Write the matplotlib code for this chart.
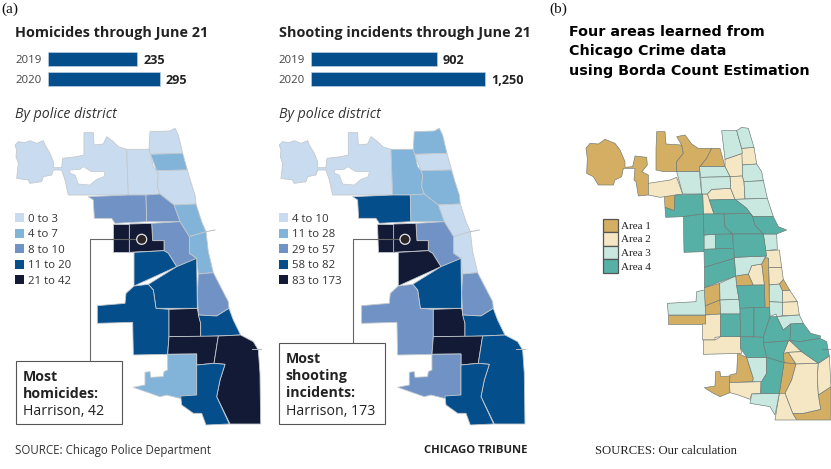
import matplotlib
matplotlib.use('Agg')
import matplotlib.pyplot as plt
from matplotlib.patches import Polygon, Rectangle, Circle

plt.rcParams['font.family'] = ['Open Sans', 'DejaVu Sans']

W, H = 831, 469

# bar data
years = ['2019', '2020']
homicides = [235, 295]
shootings = [902, 1250]

# police district outlines
districts = {
    'd16': [(45,75),(55,65),(75,68),(90,62),(110,70),(130,62),(135,75),(150,100),(160,125),(160,143),(185,143),(188,115),(230,110),(252,105),(252,38),(280,38),(282,75),(310,72),(320,50),(340,65),(355,80),(380,88),(385,225),(205,225),(195,180),(185,150),(160,150),(155,165),(130,170),(125,185),(90,190),(85,180),(50,175),(55,130),(48,110),(50,90)],
    'd17': [(380,88),(447,88),(452,103),(460,140),(470,152),(475,165),(472,200),(480,222),(438,225),(385,225)],
    'd24': [(450,35),(510,33),(525,25),(535,45),(548,100),(452,103),(447,88)],
    'd20': [(452,103),(548,100),(562,150),(470,152)],
    'd19': [(470,152),(562,150),(572,185),(585,225),(588,252),(522,255),(480,222),(472,200),(475,165)],
    'd18': [(522,255),(588,252),(605,305),(618,335),(568,350),(540,305)],
    'd1': [(568,350),(618,335),(625,395),(640,458),(595,462),(590,415),(568,400)],
    'd25': [(265,230),(385,225),(438,225),(440,305),(345,310),(335,295),(283,295),(280,240)],
    'd14': [(438,225),(480,222),(522,255),(540,305),(440,305)],
    'd12': [(455,310),(540,305),(568,350),(568,400),(590,415),(582,420),(530,440),(505,400),(492,392),(492,362),(458,362)],
    'd15': [(338,312),(388,312),(388,397),(340,397)],
    'd11': [(388,312),(455,310),(458,362),(492,362),(492,392),(388,397)],
    'd10': [(402,397),(492,392),(505,400),(530,440),(402,498)],
    'd9': [(445,493),(530,440),(590,415),(592,565),(468,565),(460,510)],
    'd8': [(292,557),(375,550),(378,520),(402,498),(445,493),(460,510),(468,565),(507,568),(507,650),(503,703),(400,705),(398,607),(292,610)],
    'd7': [(507,568),(592,565),(602,610),(602,650),(507,650)],
    'd2': [(595,462),(640,458),(685,545),(687,565),(650,588),(595,585),(592,520)],
    'd3': [(595,585),(650,588),(687,565),(700,600),(722,645),(655,648),(602,650),(602,610)],
    'd6': [(507,650),(655,648),(642,730),(590,735),(590,702),(503,703)],
    'd4': [(655,648),(722,645),(760,665),(775,690),(780,760),(782,912),(690,912),(650,830),(660,780),(675,733),(642,730)],
    'd22': [(503,703),(590,702),(590,840),(540,835),(500,825),(480,830),(400,802),(435,795),(435,757),(450,755),(452,772),(490,770),(492,755),(503,750)],
    'd5': [(590,735),(642,730),(675,733),(660,780),(650,830),(688,912),(618,915),(605,880),(580,880),(545,855),(542,828),(590,825)],
}
ohare_hole = [(210,150),(240,148),(250,140),(275,155),(315,155),(312,170),(290,178),(270,195),(235,192),(225,165),(210,160)]
piers = [[(618,335),(645,330)], [(755,688),(782,688)]]

# colour bin of each district, 0 (lowest) to 4
homicide_bins = {'d16':0,'d17':0,'d24':0,'d20':1,'d19':0,'d18':1,'d1':1,'d25':2,'d14':2,'d12':2,'d15':4,'d11':4,
                 'd10':3,'d9':3,'d8':3,'d7':4,'d2':2,'d3':3,'d6':4,'d4':4,'d22':1,'d5':3}
shooting_bins = {'d16':0,'d17':1,'d24':1,'d20':0,'d19':1,'d18':0,'d1':0,'d25':3,'d14':1,'d12':2,'d15':4,'d11':4,
                 'd10':4,'d9':3,'d8':2,'d7':4,'d2':2,'d3':3,'d6':4,'d4':3,'d22':2,'d5':3}
homicide_labels = ['0 to 3', '4 to 7', '8 to 10', '11 to 20', '21 to 42']
shooting_labels = ['4 to 10', '11 to 28', '29 to 57', '58 to 82', '83 to 173']
blues = ['#c9dcef', '#82b3d8', '#7092c4', '#044f8b', '#131a36']

# community areas of the right hand map, by learned area
area_names = ['Area 1', 'Area 2', 'Area 3', 'Area 4']
area_colors = ['#d4ae62', '#f5e6c4', '#c8e8e0', '#57b0a6']
area1 = [
    [(48,85),(60,70),(85,72),(105,58),(135,70),(150,90),(165,125),(165,142),(188,140),(195,108),(230,112),(232,135),(220,150),(215,155),(235,165),(235,225),(205,228),(198,185),(192,180),(195,145),(160,145),(155,170),(135,180),(130,195),(85,195),(70,170),(50,160),(52,115)],
    [(258,88),(260,35),(285,35),(288,72),(335,75),(340,100),(320,125),(320,155),(282,155),(258,150)],
    [(320,50),(345,45),(365,72),(385,85),(425,85),(410,115),(390,140),(388,155),(320,155),(320,125),(340,100),(335,75)],
    [(425,85),(450,85),(465,140),(390,140),(410,115)],
    [(283,225),(315,225),(313,272),(285,262)],
    [(587,412),(596,415),(598,562),(585,562),(583,495),(575,432)],
    [(497,468),(535,462),(550,495),(500,497)],
    [(628,492),(640,478),(660,512),(637,512)],
    [(403,503),(449,490),(450,540),(405,558)],
    [(405,558),(450,540),(452,582),(407,585)],
    [(295,585),(407,585),(407,612),(295,612)],
    [(655,697),(678,732),(642,728),(640,700)],
    [(503,700),(530,712),(550,775),(548,785),(478,788),(480,765),(500,760)],
    [(642,728),(678,732),(665,780),(645,820),(628,820)],
    [(745,825),(783,800),(783,900),(680,900),(668,880),(700,880),(752,868)],
    [(403,803),(435,798),(437,755),(450,755),(452,770),(480,768),(478,788),(480,818),(450,830),(430,820)],
]
area2 = [
    [(235,190),(300,180),(320,172),(338,222),(270,232),(235,225)],
    [(425,208),(482,205),(495,238),(418,240),(412,222)],
    [(465,118),(517,100),(517,168),(480,170),(465,140)],
    [(480,170),(517,168),(522,185),(525,237),(495,238),(482,205)],
    [(515,85),(552,82),(560,132),(517,135)],
    [(398,222),(412,222),(432,282),(400,282)],
    [(587,392),(628,390),(635,443),(596,443),(596,415),(587,412)],
    [(596,443),(635,443),(640,478),(628,492),(598,495)],
    [(535,462),(545,437),(575,432),(583,495),(550,495)],
    [(637,512),(660,512),(682,545),(637,547)],
    [(637,547),(682,545),(688,585),(638,587)],
    [(407,585),(452,582),(452,650),(435,652),(435,660),(398,660),(398,612),(407,612)],
    [(400,660),(435,660),(452,650),(512,650),(512,685),(515,700),(400,703)],
    [(655,663),(660,662),(695,695),(655,697),(640,700)],
    [(655,697),(695,695),(745,730),(678,732)],
    [(678,732),(745,730),(742,770),(745,825),(752,868),(700,880),(668,880),(645,820),(665,780)],
    [(745,730),(778,708),(783,800),(745,825),(742,770)],
    [(628,820),(645,820),(668,880),(680,900),(615,900)],
    [(478,788),(572,785),(572,820),(545,822),(540,838),(505,825),(480,818)],
]
area3 = [
    [(320,155),(388,155),(395,222),(338,222)],
    [(388,140),(465,140),(480,170),(392,172)],
    [(392,172),(480,170),(482,205),(425,208),(412,222),(395,222)],
    [(455,32),(500,32),(515,85),(517,100),(465,118)],
    [(500,32),(515,22),(535,25),(552,82),(515,85)],
    [(517,135),(560,132),(575,155),(580,182),(522,185),(517,168)],
    [(522,185),(580,182),(592,235),(525,237)],
    [(495,238),(592,235),(610,290),(548,290),(530,265)],
    [(402,345),(437,343),(437,387),(402,388)],
    [(580,342),(620,342),(622,388),(587,392)],
    [(493,412),(587,408),(575,432),(545,437),(535,462),(497,468)],
    [(598,495),(628,492),(637,512),(637,547),(598,545)],
    [(598,545),(637,547),(638,587),(620,590),(618,582),(600,590)],
    [(620,590),(688,585),(700,610),(662,612),(640,630)],
    [(449,490),(497,468),(500,497),(507,538),(450,540)],
    [(450,540),(507,538),(510,565),(510,582),(452,582)],
    [(292,550),(378,545),(380,515),(403,510),(407,585),(295,585)],
    [(530,712),(590,712),(590,760),(575,785),(548,785),(550,775)],
    [(545,822),(628,820),(615,885),(600,860),(540,850)],
]
area4 = [
    [(315,225),(398,222),(400,282),(340,290),(287,292),(285,262),(313,272)],
    [(418,240),(495,238),(530,265),(548,290),(540,280),(432,282)],
    [(340,290),(400,282),(402,345),(402,395),(342,397)],
    [(400,282),(462,282),(465,320),(488,342),(437,343),(402,345)],
    [(462,282),(540,280),(548,290),(555,315),(580,342),(488,342),(465,320)],
    [(548,290),(610,290),(625,320),(650,330),(620,342),(580,342),(555,315)],
    [(437,343),(488,342),(490,385),(437,387)],
    [(488,342),(580,342),(590,408),(493,412)],
    [(402,388),(490,385),(493,415),(403,442)],
    [(403,442),(493,415),(497,468),(403,503)],
    [(500,497),(583,495),(585,562),(510,565),(507,538)],
    [(452,582),(510,582),(512,650),(452,650)],
    [(510,565),(552,563),(552,650),(512,650)],
    [(552,563),(598,562),(600,590),(580,652),(552,650)],
    [(600,590),(620,590),(640,630),(662,612),(660,662),(580,668),(580,652)],
    [(662,612),(700,610),(722,640),(752,648),(750,655),(690,665),(660,662)],
    [(512,650),(580,652),(580,668),(590,712),(530,712),(512,685)],
    [(580,668),(655,663),(640,700),(642,728),(590,712)],
    [(660,662),(690,665),(750,655),(770,665),(778,708),(745,730),(695,695)],
    [(590,712),(642,728),(628,820),(572,820),(575,785),(590,760)],
]
areas = [area1, area2, area3, area4]


fig = plt.figure(figsize=(W/100, H/100), dpi=100)
ax = fig.add_axes([0, 0, 1, 1])
ax.set_xlim(0, W)
ax.set_ylim(H, 0)
ax.axis('off')


def traced(points, x0, y0=120):
    return [(x/3 + x0, y/3 + y0) for x, y in points]


def bars(values, left, px_per_unit, labels):
    # one small axes per bar chart, so the lengths come from the values
    width = 200
    bax = fig.add_axes([left/W, 1 - 90/H, width/W, 42/H])
    bax.set_xlim(0, width/px_per_unit)
    bax.set_ylim(90, 48)
    bax.axis('off')
    bax.barh([59.2, 78.8], values, height=13.7, color='#044f8b', edgecolor='#b9cfe2', linewidth=0.5)
    for y, v, yr, lab in zip([59.2, 78.8], values, years, labels):
        bax.text(v + 6/px_per_unit, y, lab, fontsize=9.1, fontweight='bold', color='#222222', va='center_baseline')
        ax.text(left - 32.5, y, yr, fontsize=8.2, color='#444444', va='center_baseline')


def choropleth(bins, labels, x0, legend_x):
    for name, pts in districts.items():
        ax.add_patch(Polygon(traced(pts, x0), facecolor=blues[bins[name]], edgecolor='#c3c8ce', linewidth=0.6))
    ax.add_patch(Polygon(traced(ohare_hole, x0), facecolor='white', edgecolor='#c3c8ce', linewidth=0.5))
    for pier in piers:
        xs, ys = zip(*traced(pier, x0))
        ax.plot(xs, ys, color='#b5bcc4', lw=0.7)
    for i, lab in enumerate(labels):
        y = 217.5 + i*15.6
        ax.add_patch(Rectangle((legend_x, y - 4.5), 9, 9, facecolor=blues[i], edgecolor='none'))
        ax.text(legend_x + 13, y, lab, fontsize=8.2, color='#333333', va='center_baseline')


def callout(cx, corner_x, box, lines):
    ax.plot([cx, corner_x, corner_x], [239.3, 239.3, box[1]], color='#666666', lw=0.8)
    ax.add_patch(Circle((cx, 239.3), 5, facecolor='#2a2526', edgecolor='#e6e6e6', linewidth=0.9, zorder=3))
    ax.add_patch(Rectangle((box[0], box[1]), box[2]-box[0], box[3]-box[1], facecolor='white', edgecolor='#555555', lw=0.8, zorder=3))
    y = box[1] + 14.4
    for text, weight in lines:
        ax.text(box[0] + 6.7, y, text, fontsize=10.2, fontweight=weight, color='#222222', va='center_baseline', zorder=4)
        y += 17.4


# left panel
ax.text(1, 8, '(a)', family='Liberation Serif', fontsize=11, va='center_baseline', color='#111111')
ax.text(15, 32, 'Homicides through June 21', fontsize=10.35, fontweight='bold', color='#222222', va='center_baseline')
bars(homicides, 47.5, 0.381, ['235', '295'])
ax.text(15, 113, 'By police district', fontsize=10.2, style='italic', color='#333333', va='center_baseline')
choropleth(homicide_bins, homicide_labels, 0, 15)
callout(141.7, 89.5, (16, 360.7, 121.7, 424.3), [('Most', 'bold'), ('homicides:', 'bold'), ('Harrison, 42', 'normal')])
ax.text(15, 449, 'SOURCE: Chicago Police Department', fontsize=8.3, color='#333333', va='center_baseline')

# middle panel
ax.text(279, 32, 'Shooting incidents through June 21', fontsize=10.35, fontweight='bold', color='#222222', va='center_baseline')
bars(shootings, 311, 0.1395, ['902', '1,250'])
ax.text(279, 113, 'By police district', fontsize=10.2, style='italic', color='#333333', va='center_baseline')
choropleth(shooting_bins, shooting_labels, 264.3, 279)
callout(405, 353.3, (279, 342.7, 384.5, 424.3), [('Most', 'bold'), ('shooting', 'bold'), ('incidents:', 'bold'), ('Harrison, 173', 'normal')])
ax.text(527, 449, 'CHICAGO TRIBUNE', fontsize=8.15, fontweight='bold', color='#222222', ha='right', va='center_baseline')

# right panel
ax.text(549, 8, '(b)', family='Liberation Serif', fontsize=11, va='center_baseline', color='#111111')
for y, line in zip([30, 50, 70], ['Four areas learned from', 'Chicago Crime data', 'using Borda Count Estimation']):
    ax.text(569, y, line, family='DejaVu Sans', fontsize=10.3, fontweight='bold', color='black', va='center_baseline')
for polys, col in zip(areas, area_colors):
    for pts in polys:
        ax.add_patch(Polygon(traced(pts, 570), facecolor=col, edgecolor='#6d7874', linewidth=0.45))
xs, ys = zip(*traced(piers[1], 570))
ax.plot(xs, ys, color='#6d7874', lw=0.45)
for i, (name, col) in enumerate(zip(area_names, area_colors)):
    y = 219 + i*13.5
    ax.add_patch(Rectangle((603, y), 15, 13.5, facecolor=col, edgecolor='#555555', linewidth=0.9))
    ax.text(621, y + 6.5, name, family='Liberation Serif', fontsize=8, color='#222222', va='center_baseline')
ax.text(595, 449, 'SOURCES: Our calculation', family='Liberation Serif', fontsize=9.1, color='#222222', va='center_baseline')

fig.savefig('out.png', dpi=100)
